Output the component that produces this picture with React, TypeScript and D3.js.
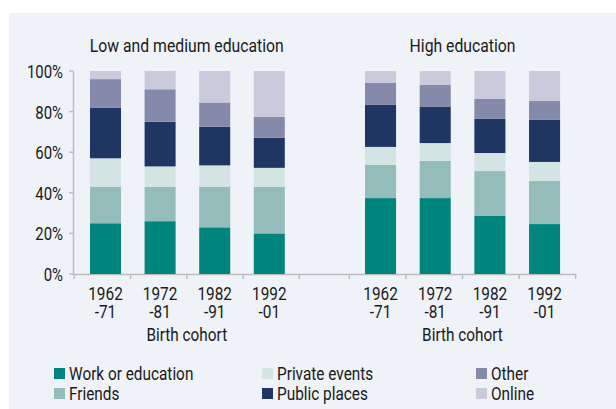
import React from "react";
import * as d3 from "d3";

// categories & series
const cohortTop = ["1962", "1972", "1982", "1992"];
const cohortBottom = ["-71", "-81", "-91", "-01"];
const seriesKeys = ["work", "friends", "private", "public", "other", "online"];
const seriesNames = ["Work or education", "Friends", "Private events", "Public places", "Other", "Online"];
const seriesColors = ["#00857e", "#93bcba", "#d4e4e3", "#1f3663", "#858aab", "#c9cbdc"];
const yTicks = [0, 20, 40, 60, 80, 100];

// Low and medium education, % per cohort
const lowWork = [25, 26, 23, 20];
const lowFriends = [18, 17, 20, 23];
const lowPrivate = [14, 10, 10.5, 9.3];
const lowPublic = [25, 22, 19, 14.8];
const lowOther = [14, 16, 12, 10.3];
const lowOnline = [4, 9, 15.5, 22.6];

// High education, % per cohort
const highWork = [37.4, 37.4, 28.6, 24.6];
const highFriends = [16.3, 18.3, 22.1, 21.2];
const highPrivate = [8.9, 8.8, 8.9, 9.4];
const highPublic = [20.7, 17.8, 16.8, 20.7];
const highOther = [10.8, 10.8, 9.8, 9.3];
const highOnline = [5.9, 6.9, 13.8, 14.8];

const FONT = "Roboto, 'Liberation Sans', sans-serif";
const SX = 0.83; // squeeze to mimic the condensed face
const W = 616;
const H = 409;

const toRows = (cols: number[][]) =>
  cohortTop.map((c, i) => {
    const row: any = { cohort: c };
    seriesKeys.forEach((k, j) => (row[k] = cols[j][i]));
    return row;
  });

const panels = [
  {
    title: "Low and medium education",
    rows: toRows([lowWork, lowFriends, lowPrivate, lowPublic, lowOther, lowOnline]),
    barRange: [78.2, 296.6],
    tickRange: [74.3, 299.3],
  },
  {
    title: "High education",
    rows: toRows([highWork, highFriends, highPrivate, highPublic, highOther, highOnline]),
    barRange: [353.2, 571.9],
    tickRange: [349.3, 575.7],
  },
];

const y = d3.scaleLinear().domain([0, 100]).range([274, 71]);
const stack = d3.stack<any>().keys(seriesKeys);
const axisColor = "#bcbcbc";
const textColor = "#1a1a1a";

const T = ({ x, y, size, anchor = "start", children }: any) => (
  <text
    transform={`translate(${x},${y}) scale(${SX},1)`}
    textAnchor={anchor}
    fontFamily={FONT}
    fontSize={size}
    fill={textColor}
  >
    {children}
  </text>
);

export default function App() {
  return (
    <svg width={W} height={H} style={{ display: "block", position: "absolute", left: 0, top: 0 }}>
      <rect x={9} y={13} width={W - 9} height={H - 13} fill="#eff2f7" />

      {/* y axis */}
      <line x1={73.5} x2={73.5} y1={y(100)} y2={y(0)} stroke={axisColor} strokeWidth={1.5} />
      {yTicks.map((t) => (
        <g key={t}>
          <line x1={69} x2={73.5} y1={y(t)} y2={y(t)} stroke={axisColor} strokeWidth={1.5} />
          <T x={63} y={y(t) + 7} size={18} anchor="end">{t}%</T>
        </g>
      ))}

      {/* x axis line */}
      <line x1={73.5} x2={576} y1={y(0) + 0.5} y2={y(0) + 0.5} stroke={axisColor} strokeWidth={1.5} />

      {panels.map((p) => {
        const xb = d3.scaleBand().domain(cohortTop).range(p.barRange as [number, number]).paddingInner(0.432).paddingOuter(0.216);
        const xt = d3.scaleBand().domain(cohortTop).range(p.tickRange as [number, number]).padding(0);
        const layers = stack(p.rows);
        const center = (p.tickRange[0] + p.tickRange[1]) / 2;
        return (
          <g key={p.title}>
            <T x={center} y={52} size={19} anchor="middle">{p.title}</T>
            {layers.map((layer, li) => (
              <g key={layer.key} fill={seriesColors[li]}>
                {layer.map((d, i) => (
                  <rect
                    key={i}
                    x={xb(cohortTop[i])}
                    width={xb.bandwidth()}
                    y={y(d[1])}
                    height={y(d[0]) - y(d[1])}
                  />
                ))}
              </g>
            ))}
            {[...cohortTop.map((c) => xt(c) as number), p.tickRange[1]].map((tx, i) => (
              <line key={i} x1={tx} x2={tx} y1={y(0)} y2={y(0) + 5} stroke={axisColor} strokeWidth={1.5} />
            ))}
            {cohortTop.map((c, i) => {
              const cx = (xb(c) as number) + xb.bandwidth() / 2;
              return (
                <g key={c}>
                  <T x={cx} y={299.5} size={18.5} anchor="middle">{c}</T>
                  <T x={cx} y={318} size={18.5} anchor="middle">{cohortBottom[i]}</T>
                </g>
              );
            })}
            <T x={center} y={341} size={18.5} anchor="middle">Birth cohort</T>
          </g>
        );
      })}

      {/* legend */}
      {seriesNames.map((name, i) => {
        const col = Math.floor(i / 2);
        const row = i % 2;
        const lx = [54, 262, 476][col];
        const ly = 368 + row * 20;
        return (
          <g key={name}>
            <rect x={lx} y={ly} width={11} height={11} fill={seriesColors[i]} />
            <T x={lx + 15} y={ly + 12} size={18.5}>{name}</T>
          </g>
        );
      })}
    </svg>
  );
}
